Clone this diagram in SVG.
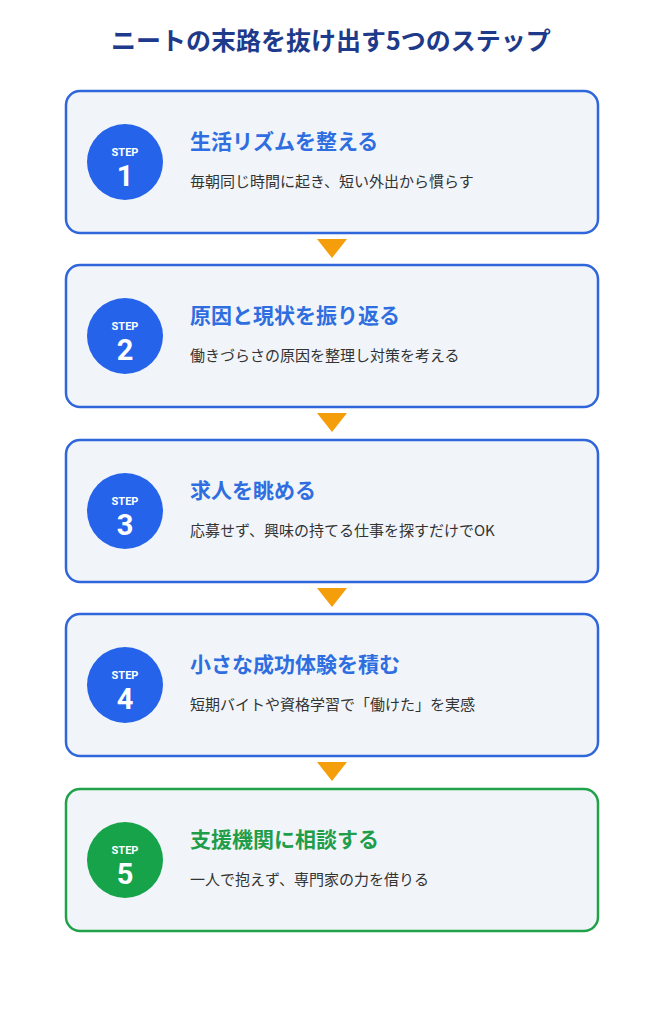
<svg xmlns="http://www.w3.org/2000/svg" width="664" height="1024" viewBox="0 0 664 1024">
<style>
text{font-family:"Noto Sans CJK JP","Noto Sans",sans-serif}
.box{fill:#f1f5f9;stroke-width:2.5}
.b .box{stroke:#2f66dc}
.g .box{stroke:#1fa24a}
.b circle{fill:#2563eb}
.g circle{fill:#16a34a}
.step{fill:#fff;font-size:11px;font-weight:700;text-anchor:middle;font-family:Roboto,"Liberation Sans",sans-serif}
.num{fill:#fff;font-size:29px;font-weight:700;text-anchor:middle;font-family:Roboto,"Liberation Sans",sans-serif}
.ttl{font-size:21px;font-weight:700}
.b .ttl{fill:#2f6ee0}
.g .ttl{fill:#1f9d48}
.sub{font-size:15px;fill:#333}
.arr{fill:#f59e0b}
</style>
<rect width="664" height="1024" fill="#fff"/>
<text x="331" y="50" text-anchor="middle" font-size="25" font-weight="700" fill="#1e3a8a">ニートの末路を抜け出す5つのステップ</text>
<g id="connectors">
<polygon class="arr" points="317,239 347,239 332,258"/>
<polygon class="arr" points="317,413 347,413 332,432"/>
<polygon class="arr" points="317,588 347,588 332,607"/>
<polygon class="arr" points="317,762 347,762 332,781"/>
</g>
<g id="step1" class="b" transform="translate(0,91)">
<rect class="box" x="66" y="0" width="532" height="142" rx="14"/>
<circle cx="125" cy="71" r="38"/>
<text class="step" x="125" y="65">STEP</text>
<text class="num" x="125" y="95">1</text>
<text class="ttl" x="190" y="58">生活リズムを整える</text>
<text class="sub" x="190" y="96">毎朝同じ時間に起き、短い外出から慣らす</text>
</g>
<g id="step2" class="b" transform="translate(0,265)">
<rect class="box" x="66" y="0" width="532" height="142" rx="14"/>
<circle cx="125" cy="71" r="38"/>
<text class="step" x="125" y="65">STEP</text>
<text class="num" x="125" y="95">2</text>
<text class="ttl" x="190" y="58">原因と現状を振り返る</text>
<text class="sub" x="190" y="96">働きづらさの原因を整理し対策を考える</text>
</g>
<g id="step3" class="b" transform="translate(0,440)">
<rect class="box" x="66" y="0" width="532" height="142" rx="14"/>
<circle cx="125" cy="71" r="38"/>
<text class="step" x="125" y="65">STEP</text>
<text class="num" x="125" y="95">3</text>
<text class="ttl" x="190" y="58">求人を眺める</text>
<text class="sub" x="190" y="96">応募せず、興味の持てる仕事を探すだけでOK</text>
</g>
<g id="step4" class="b" transform="translate(0,614)">
<rect class="box" x="66" y="0" width="532" height="142" rx="14"/>
<circle cx="125" cy="71" r="38"/>
<text class="step" x="125" y="65">STEP</text>
<text class="num" x="125" y="95">4</text>
<text class="ttl" x="190" y="58">小さな成功体験を積む</text>
<text class="sub" x="190" y="96">短期バイトや資格学習で「働けた」を実感</text>
</g>
<g id="step5" class="g" transform="translate(0,789)">
<rect class="box" x="66" y="0" width="532" height="142" rx="14"/>
<circle cx="125" cy="71" r="38"/>
<text class="step" x="125" y="65">STEP</text>
<text class="num" x="125" y="95">5</text>
<text class="ttl" x="190" y="58">支援機関に相談する</text>
<text class="sub" x="190" y="96">一人で抱えず、専門家の力を借りる</text>
</g>
</svg>
